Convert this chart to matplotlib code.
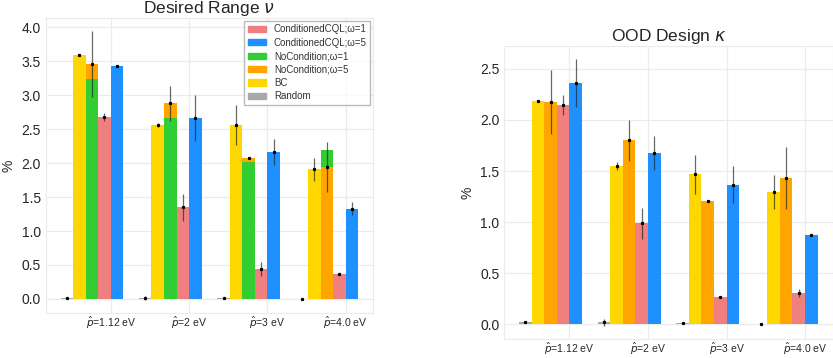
import matplotlib.pyplot as plt
from matplotlib.patches import Patch
import numpy as np

plt.rcParams['font.family'] = ['Liberation Sans', 'DejaVu Sans']
plt.rcParams['mathtext.fontset'] = 'dejavusans'

groups = ["$\\hat{p}$=1.12 eV", "$\\hat{p}$=2 eV", "$\\hat{p}$=3 eV", "$\\hat{p}$=4.0 eV"]

# Desired Range (left panel)
nu_random = [0.02, 0.02, 0.01, 0.0]
nu_random_err = [0.01, 0.03, 0.005, 0.0]
nu_bc = [3.59, 2.56, 2.56, 1.91]
nu_bc_err = [0.01, 0.03, 0.29, 0.17]
nu_nc1 = [3.24, 2.66, 2.01, 2.20]
nu_nc5 = [3.46, 2.88, 2.07, 1.94]
nu_nc5_err = [0.48, 0.26, 0.01, 0.37]
nu_cql1 = [2.68, 1.35, 0.44, 0.365]
nu_cql1_err = [0.06, 0.20, 0.10, 0.01]
nu_cql5 = [3.43, 2.67, 2.16, 1.33]
nu_cql5_err = [0.02, 0.34, 0.19, 0.10]

# OOD Design (right panel)
k_random = [0.02, 0.023, 0.013, 0.0]
k_random_err = [0.01, 0.035, 0.01, 0.0]
k_bc = [2.18, 1.55, 1.47, 1.295]
k_bc_err = [0.01, 0.04, 0.19, 0.17]
k_nc5 = [2.175, 1.80, 1.21, 1.43]
k_nc5_err = [0.31, 0.20, 0.01, 0.30]
k_cql1 = [2.145, 0.99, 0.27, 0.306]
k_cql1_err = [0.10, 0.15, 0.005, 0.04]
k_cql5 = [2.36, 1.676, 1.367, 0.87]
k_cql5_err = [0.23, 0.17, 0.18, 0.01]

legend_labels = ["ConditionedCQL;ω=1", "ConditionedCQL;ω=5", "NoCondition;ω=1",
                 "NoCondition;ω=5", "BC", "Random"]

c_random = "#A9A9A9"
c_bc = "#FFD700"
c_nc1 = "#32CD32"
c_nc5 = "#FFA500"
c_cql1 = "#F08080"
c_cql5 = "#1E90FF"

w = 0.16
x = np.arange(len(groups))

fig = plt.figure(figsize=(8.33, 3.58), dpi=100)
ax1 = fig.add_axes([0.0549, 0.1257, 0.393, 0.824])
ax2 = fig.add_axes([0.6054, 0.053, 0.394, 0.818])


def err(ax, xs, ys, es):
    ax.errorbar(xs, ys, yerr=es, fmt="s", color="k", ms=1.3,
                ecolor=(0.15, 0.15, 0.15, 0.7), elinewidth=0.9, capsize=0, zorder=5)


def style(ax, title):
    ax.set_facecolor("white")
    ax.grid(True, color="#ebebeb", linewidth=0.9)
    ax.set_axisbelow(True)
    for s in ax.spines.values():
        s.set_color("#ebebeb")
    ax.tick_params(length=0, labelsize=10, colors="#262626")
    ax.tick_params(axis="x", labelsize=7.5, pad=1.5)
    ax.set_xticks(x)
    ax.set_xticklabels(groups)
    ax.set_ylabel("%", fontsize=10, color="#262626")
    ax.set_title(title, fontsize=12.5, color="#262626", pad=2)


# left panel
ax1.bar(x - 3.5 * w, nu_random, w, color=c_random)
err(ax1, x - 3.5 * w, nu_random, nu_random_err)
ax1.bar(x - 2.5 * w, nu_bc, w, color=c_bc)
err(ax1, x - 2.5 * w, nu_bc, nu_bc_err)
for i in range(len(groups)):
    # taller one behind, shorter one in front
    pair = [(nu_nc1[i], c_nc1), (nu_nc5[i], c_nc5)]
    pair.sort(key=lambda p: -p[0])
    for v, c in pair:
        ax1.bar(x[i] - 1.5 * w, v, w, color=c)
err(ax1, x - 1.5 * w, nu_nc5, nu_nc5_err)
ax1.bar(x - 0.5 * w, nu_cql1, w, color=c_cql1)
err(ax1, x - 0.5 * w, nu_cql1, nu_cql1_err)
ax1.bar(x + 0.5 * w, nu_cql5, w, color=c_cql5)
err(ax1, x + 0.5 * w, nu_cql5, nu_cql5_err)
style(ax1, "Desired Range $\\nu$")

colors = [c_cql1, c_cql5, c_nc1, c_nc5, c_bc, c_random]
handles = [Patch(color=c, label=l) for c, l in zip(colors, legend_labels)]
leg = ax1.legend(handles=handles, loc="upper right", fontsize=7, frameon=True,
                 fancybox=False, handlelength=1.9, handleheight=0.6,
                 labelspacing=0.35, borderaxespad=0.3, borderpad=0.35,
                 handletextpad=0.8)
leg.get_frame().set_edgecolor("#aaaaaa")
for t in leg.get_texts():
    t.set_color("#333333")

# right panel
ax2.bar(x - 3.5 * w, k_random, w, color=c_random)
err(ax2, x - 3.5 * w, k_random, k_random_err)
ax2.bar(x - 2.5 * w, k_bc, w, color=c_bc)
err(ax2, x - 2.5 * w, k_bc, k_bc_err)
ax2.bar(x - 1.5 * w, k_nc5, w, color=c_nc5)
err(ax2, x - 1.5 * w, k_nc5, k_nc5_err)
ax2.bar(x - 0.5 * w, k_cql1, w, color=c_cql1)
err(ax2, x - 0.5 * w, k_cql1, k_cql1_err)
ax2.bar(x + 0.5 * w, k_cql5, w, color=c_cql5)
err(ax2, x + 0.5 * w, k_cql5, k_cql5_err)
style(ax2, "OOD Design $\\kappa$")

plt.savefig("out.png", dpi=100)
plt.close()
